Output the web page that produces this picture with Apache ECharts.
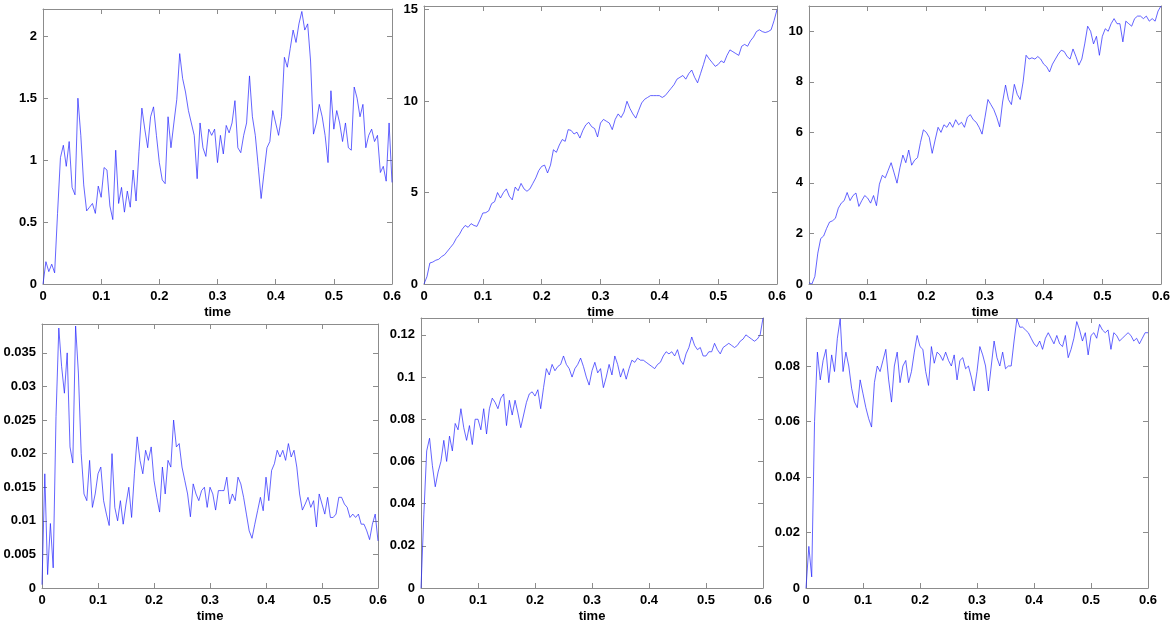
<!DOCTYPE html>
<html>
<head>
<meta charset="utf-8">
<script src="https://cdn.jsdelivr.net/npm/echarts@6/dist/echarts.min.js"></script>
<style>
  html, body { margin: 0; padding: 0; background: #fff; }
  #chart { width: 1176px; height: 624px; }
</style>
</head>
<body>
<div id="chart"></div>
<script>
// sampling grid: 0 .. 0.6 every 0.005 (121 points)
const times = []
for (let i = 0; i <= 120; i++) times.push(+(i * 0.005).toFixed(3))

// top row
const v1 = [
  0, 0.18, 0.1, 0.16, 0.09, 0.57, 1.02, 1.12, 0.95, 1.15,
  0.78, 0.72, 1.5, 1.2, 0.8, 0.59, 0.62, 0.65, 0.57, 0.79,
  0.7, 0.94, 0.92, 0.63, 0.52, 1.08, 0.65, 0.78, 0.58, 0.75,
  0.62, 0.92, 0.67, 1.07, 1.42, 1.25, 1.1, 1.35, 1.43, 1.2,
  0.98, 0.84, 0.81, 1.35, 1.1, 1.3, 1.49, 1.86, 1.66, 1.55,
  1.4, 1.3, 1.2, 0.85, 1.3, 1.1, 1.03, 1.25, 1.2, 1.25,
  0.98, 1.2, 1.05, 1.28, 1.22, 1.3, 1.48, 1.1, 1.06, 1.2,
  1.3, 1.68, 1.35, 1.2, 0.95, 0.69, 0.9, 1.1, 1.15, 1.4,
  1.3, 1.2, 1.35, 1.83, 1.75, 1.9, 2.05, 1.95, 2.1, 2.2,
  2.05, 2.1, 1.8, 1.21, 1.3, 1.45, 1.35, 1.2, 0.98, 1.56,
  1.25, 1.4, 1.3, 1.15, 1.3, 1.1, 1.08, 1.59, 1.5, 1.35,
  1.45, 1.1, 1.2, 1.25, 1.15, 1.2, 0.9, 0.95, 0.83, 1.3,
  0.82
]
const v2 = [
  0, 0.4, 1.15, 1.2, 1.3, 1.35, 1.5, 1.6, 1.8, 2.0,
  2.2, 2.5, 2.7, 3.0, 3.2, 3.1, 3.3, 3.2, 3.15, 3.5,
  3.88, 3.9, 4.0, 4.4, 4.5, 5.0, 4.7, 5.0, 5.2, 4.8,
  4.6, 5.3, 5.1, 5.5, 5.2, 5.07, 5.2, 5.5, 5.8, 6.2,
  6.43, 6.5, 6.07, 6.5, 7.34, 7.2, 7.6, 7.9, 7.8, 8.44,
  8.4, 8.2, 8.3, 7.98, 8.4, 8.7, 8.84, 8.6, 8.5, 8.04,
  8.8, 9.0, 8.9, 8.8, 8.44, 9.0, 9.3, 9.1, 9.4, 9.99,
  9.6, 9.3, 9.07, 9.5, 9.9, 10.1, 10.2, 10.3, 10.3, 10.3,
  10.3, 10.2, 10.3, 10.5, 10.7, 10.9, 11.2, 11.3, 11.4, 11.2,
  11.5, 11.7, 11.3, 11.0, 11.5, 12.0, 12.54, 12.3, 12.1, 11.9,
  12.0, 12.2, 12.1, 12.5, 12.8, 12.7, 12.6, 12.5, 13.0, 13.1,
  13.0, 13.3, 13.5, 13.8, 13.9, 13.8, 13.75, 13.8, 13.9, 14.4,
  15.0
]
const v3 = [
  0.05, 0.0, 0.3, 1.22, 1.8, 1.9, 2.2, 2.45, 2.5, 2.6,
  3.0, 3.2, 3.3, 3.62, 3.3, 3.5, 3.6, 3.07, 3.3, 3.5,
  3.4, 3.2, 3.5, 3.1, 3.95, 4.3, 4.2, 4.5, 4.8, 4.4,
  3.99, 4.6, 5.1, 4.8, 5.3, 4.7, 4.9, 5.0, 5.6, 6.1,
  6.0, 5.8, 5.17, 5.7, 6.2, 6.0, 6.3, 6.2, 6.4, 6.2,
  6.5, 6.3, 6.4, 6.2, 6.6, 6.7, 6.5, 6.4, 6.2, 5.93,
  6.6, 7.3, 7.1, 6.9, 6.6, 6.22, 7.2, 7.87, 7.3, 7.1,
  7.9, 7.5, 7.3, 8.0, 9.05, 8.9, 8.95, 8.9, 9.0, 8.9,
  8.7, 8.6, 8.39, 8.7, 8.9, 9.1, 9.25, 9.2, 9.0, 8.9,
  9.3, 9.0, 8.66, 8.9, 9.5, 10.2, 10.0, 9.5, 9.8, 9.05,
  9.8, 10.1, 10.0, 10.3, 10.5, 10.3, 10.3, 9.58, 10.4, 10.3,
  10.2, 10.5, 10.6, 10.6, 10.5, 10.6, 10.4, 10.5, 10.4, 10.8,
  11.0
]

// bottom row
const v4 = [
  0.0005, 0.017, 0.002, 0.0096, 0.003, 0.0255, 0.0387, 0.033, 0.029, 0.035,
  0.021, 0.0186, 0.039, 0.032, 0.02, 0.014, 0.013, 0.019, 0.012, 0.014,
  0.017, 0.018, 0.013, 0.011, 0.0093, 0.02, 0.012, 0.01, 0.013, 0.0095,
  0.0125, 0.015, 0.0105, 0.017, 0.0225, 0.019, 0.017, 0.0205, 0.019, 0.021,
  0.016, 0.0135, 0.0113, 0.018, 0.014, 0.019, 0.018, 0.025, 0.021, 0.0215,
  0.018, 0.016, 0.014, 0.0106, 0.0155, 0.014, 0.013, 0.0145, 0.015, 0.012,
  0.015, 0.014, 0.0116, 0.0145, 0.0145, 0.0145, 0.0165, 0.0125, 0.014, 0.013,
  0.0165, 0.0155, 0.0135, 0.011, 0.0085, 0.0074, 0.0095, 0.0115, 0.0135, 0.0115,
  0.0165, 0.013, 0.0175, 0.0185, 0.0205, 0.0195, 0.0205, 0.019, 0.0215, 0.0195,
  0.0205, 0.018, 0.014, 0.0116, 0.0125, 0.0135, 0.012, 0.013, 0.0091, 0.014,
  0.0125, 0.011, 0.0135, 0.0105, 0.0105, 0.011, 0.0135, 0.0135, 0.0125, 0.012,
  0.0105, 0.011, 0.0105, 0.011, 0.0095, 0.0095, 0.0085, 0.0072, 0.0095, 0.011,
  0.007
]
const v5 = [
  0, 0.035, 0.065, 0.071, 0.058, 0.048, 0.055, 0.06, 0.07, 0.06,
  0.072, 0.065, 0.078, 0.075, 0.085, 0.076, 0.07, 0.077, 0.068, 0.08,
  0.08, 0.075, 0.085, 0.073, 0.085, 0.09, 0.088, 0.085, 0.09, 0.092,
  0.077, 0.089, 0.082, 0.089, 0.083, 0.076, 0.082, 0.088, 0.092, 0.093,
  0.091, 0.094, 0.085, 0.095, 0.104, 0.101, 0.106, 0.103, 0.105, 0.106,
  0.11, 0.106, 0.104, 0.1, 0.104, 0.106, 0.109, 0.105, 0.1, 0.0962,
  0.103, 0.107, 0.102, 0.104, 0.095, 0.1, 0.106, 0.101, 0.11, 0.106,
  0.1, 0.104, 0.099, 0.104, 0.108, 0.107, 0.109, 0.108, 0.108, 0.107,
  0.106, 0.105, 0.104, 0.106, 0.107, 0.11, 0.112, 0.111, 0.112, 0.11,
  0.113, 0.108, 0.106, 0.111, 0.114, 0.119, 0.115, 0.113, 0.114, 0.11,
  0.11, 0.112, 0.112, 0.116, 0.113, 0.111, 0.114, 0.115, 0.116, 0.115,
  0.114, 0.115, 0.117, 0.118, 0.12, 0.119, 0.118, 0.117, 0.118, 0.12,
  0.128
]
const v6 = [
  0, 0.015, 0.004, 0.06, 0.085, 0.075, 0.082, 0.086, 0.074, 0.084,
  0.078, 0.09, 0.097, 0.078, 0.085, 0.08, 0.072, 0.067, 0.065, 0.075,
  0.07, 0.065, 0.061, 0.058, 0.074, 0.08, 0.078, 0.082, 0.086, 0.075,
  0.067, 0.08, 0.085, 0.074, 0.08, 0.082, 0.074, 0.078, 0.085, 0.091,
  0.087, 0.086, 0.078, 0.073, 0.087, 0.081, 0.085, 0.084, 0.082, 0.085,
  0.082, 0.08, 0.084, 0.075, 0.082, 0.083, 0.079, 0.08, 0.076, 0.071,
  0.078, 0.087, 0.084, 0.08, 0.071, 0.08, 0.089, 0.083, 0.08, 0.085,
  0.079, 0.08, 0.08, 0.089, 0.097, 0.094, 0.094, 0.093, 0.092, 0.09,
  0.088, 0.087, 0.089, 0.086, 0.09, 0.092, 0.09, 0.088, 0.091, 0.088,
  0.087, 0.091, 0.083, 0.086, 0.09, 0.096, 0.093, 0.089, 0.092, 0.084,
  0.091, 0.092, 0.09, 0.095, 0.093, 0.092, 0.093, 0.086, 0.092, 0.091,
  0.089, 0.09, 0.091, 0.092, 0.091, 0.089, 0.09, 0.088, 0.09, 0.092,
  0.092
]

const series = [v1, v2, v3, v4, v5, v6]
const yMax = [2.22, 15.2, 11, 0.0393, 0.128, 0.0973]
const yStep = [0.5, 5, 2, 0.005, 0.02, 0.02]

// plot boxes [left, top, width, height]
const boxes = [
  [43, 9, 349, 275], [424, 6, 353, 278], [809, 6, 352, 278],
  [42, 324, 336, 264], [421, 318, 342, 270], [806, 318, 342, 270]
]

const boxColor = '#8c8c8c'
const labelFont = {color: '#000', fontFamily: 'Liberation Sans', fontWeight: 'bold', fontSize: 13}

function stepLabel (step) {
  return function (v) {
    let k = v / step
    return Math.abs(k - Math.round(k)) < 1e-6 ? String(+v.toFixed(4)) : ''
  }
}

function axisBase (gridIndex, position, min, max, step, showLabel) {
  return {
    gridIndex: gridIndex,
    type: 'value',
    position: position,
    min: min,
    max: max,
    interval: step,
    axisLine: {show: true, onZero: false, lineStyle: {color: boxColor, width: 1}},
    axisTick: {show: true, inside: true, length: 5, lineStyle: {color: boxColor}},
    axisLabel: Object.assign({show: showLabel, margin: 6, formatter: stepLabel(step)}, labelFont),
    splitLine: {show: false}
  }
}

let grid = []
let xAxis = []
let yAxis = []
let seriesList = []
for (let i = 0; i < 6; i++) {
  let b = boxes[i]
  grid.push({left: b[0], top: b[1], width: b[2], height: b[3], containLabel: false})

  let xb = axisBase(i, 'bottom', 0, 0.6, 0.1, true)
  xb.name = 'time'
  xb.nameLocation = 'middle'
  xb.nameGap = 22
  xb.nameTextStyle = labelFont
  xAxis.push(xb)
  xAxis.push(axisBase(i, 'top', 0, 0.6, 0.1, false))

  yAxis.push(axisBase(i, 'left', 0, yMax[i], yStep[i], true))
  yAxis.push(axisBase(i, 'right', 0, yMax[i], yStep[i], false))

  let vals = series[i]
  seriesList.push({
    type: 'line',
    xAxisIndex: 2 * i,
    yAxisIndex: 2 * i,
    showSymbol: false,
    symbol: 'none',
    lineStyle: {color: '#2323ff', width: 0.7},
    data: times.map((t, k) => [t, vals[k]])
  })
}

let option = {
  animation: false,
  backgroundColor: '#fff',
  grid: grid,
  xAxis: xAxis,
  yAxis: yAxis,
  series: seriesList
}

let chart = echarts.init(document.getElementById('chart'), null, {renderer: 'canvas'})
chart.setOption(option)
</script>
</body>
</html>
